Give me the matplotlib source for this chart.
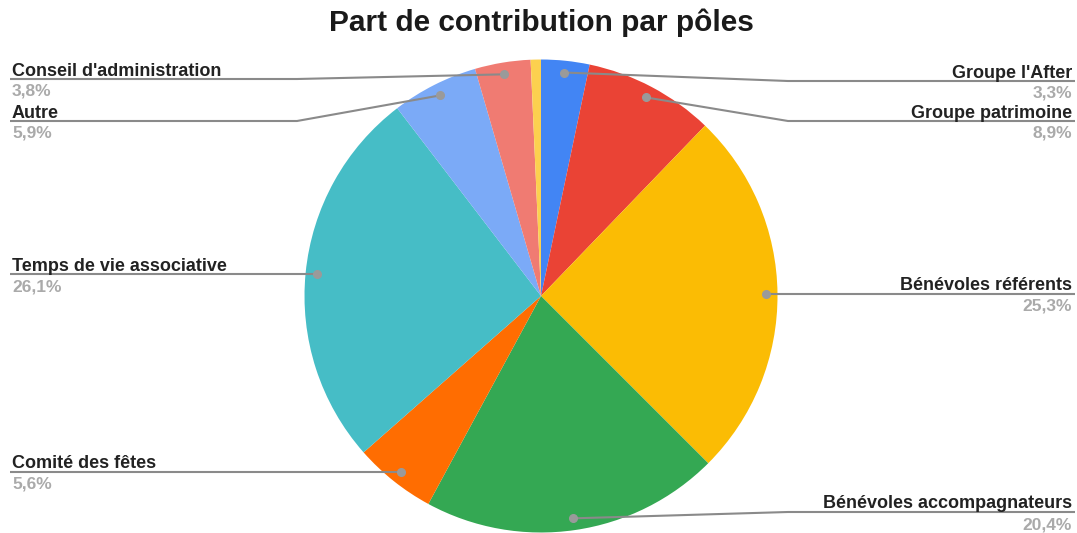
import numpy as np
import matplotlib
matplotlib.use("Agg")
import matplotlib.pyplot as plt

plt.rcParams['font.family'] = ['Liberation Sans', 'DejaVu Sans']

# ---- data ----
title = "Part de contribution par pôles"
categories = ["Groupe l'After", "Groupe patrimoine", "Bénévoles référents",
              "Bénévoles accompagnateurs", "Comité des fêtes",
              "Temps de vie associative", "Autre", "Conseil d'administration", ""]
values = [3.3, 8.9, 25.3, 20.4, 5.6, 26.1, 5.9, 3.8, 0.7]
pct_labels = ["3,3%", "8,9%", "25,3%", "20,4%", "5,6%", "26,1%", "5,9%", "3,8%", ""]
colors = ["#4285F4", "#EA4335", "#FBBC04", "#34A853", "#FF6D01",
          "#46BDC6", "#7BAAF7", "#F07B72", "#FCD04F"]

# ---- layout (pixels) ----
W, H = 1077, 533
cx, cy, R = 541, 296, 236.5
# label line y, side, elbow x
label_layout = {
    0: (81, 'right', 788),
    1: (121, 'right', 788),
    2: (295, 'right', 788),
    3: (512, 'right', 788),
    4: (471, 'left', 297),
    5: (274, 'left', 297),
    6: (121, 'left', 297),
    7: (79, 'left', 297),
}

fig = plt.figure(figsize=(W / 100, H / 100), dpi=100)
fig.patch.set_facecolor('white')

# pie axes placed in pixel coordinates
axp = fig.add_axes([(cx - R) / W, (H - cy - R) / H, 2 * R / W, 2 * R / H])
wedges, _ = axp.pie(values, colors=colors, startangle=90, counterclock=False,
                    radius=1.0, wedgeprops=dict(linewidth=0))
axp.set_xlim(-1, 1)
axp.set_ylim(-1, 1)
axp.set_aspect('auto')
axp.axis('off')

# overlay axes for labels
ax = fig.add_axes([0, 0, 1, 1], zorder=3)
ax.set_xlim(0, W)
ax.set_ylim(H, 0)
ax.axis('off')
ax.patch.set_alpha(0)

ax.text(cx, 23, title, ha='center', va='center', fontsize=21.5,
        fontweight='bold', color='#1a1a1a')

line_col = '#8a8a8a'
for i, w in enumerate(wedges):
    if i not in label_layout:
        continue
    mid = np.deg2rad((w.theta1 + w.theta2) / 2)
    dx = cx + 0.95 * R * np.cos(mid)
    dy = cy - 0.95 * R * np.sin(mid)
    ly, side, ex = label_layout[i]
    if side == 'right':
        xs = [dx, ex, 1075]
        tx, ha = 1072, 'right'
    else:
        xs = [dx, ex, 10]
        tx, ha = 12, 'left'
    if abs(dy - ly) < 3:
        xs = [dx, xs[2]]
        ys = [dy, dy]
        ly = dy
    else:
        ys = [dy, ly, ly]
    ax.plot(xs, ys, color=line_col, lw=1.5, solid_capstyle='butt', zorder=3)
    ax.plot([dx], [dy], 'o', ms=5.5, color='#9a9a9a', zorder=4)
    ax.text(tx, ly - 3.5, categories[i], ha=ha, va='baseline', fontsize=13,
            fontweight='bold', color='#222222')
    ax.text(tx, ly + 5, pct_labels[i], ha=ha, va='top', fontsize=12.5,
            fontweight='bold', color='#aaaaaa')

fig.savefig('out.png', dpi=100, facecolor='white')
